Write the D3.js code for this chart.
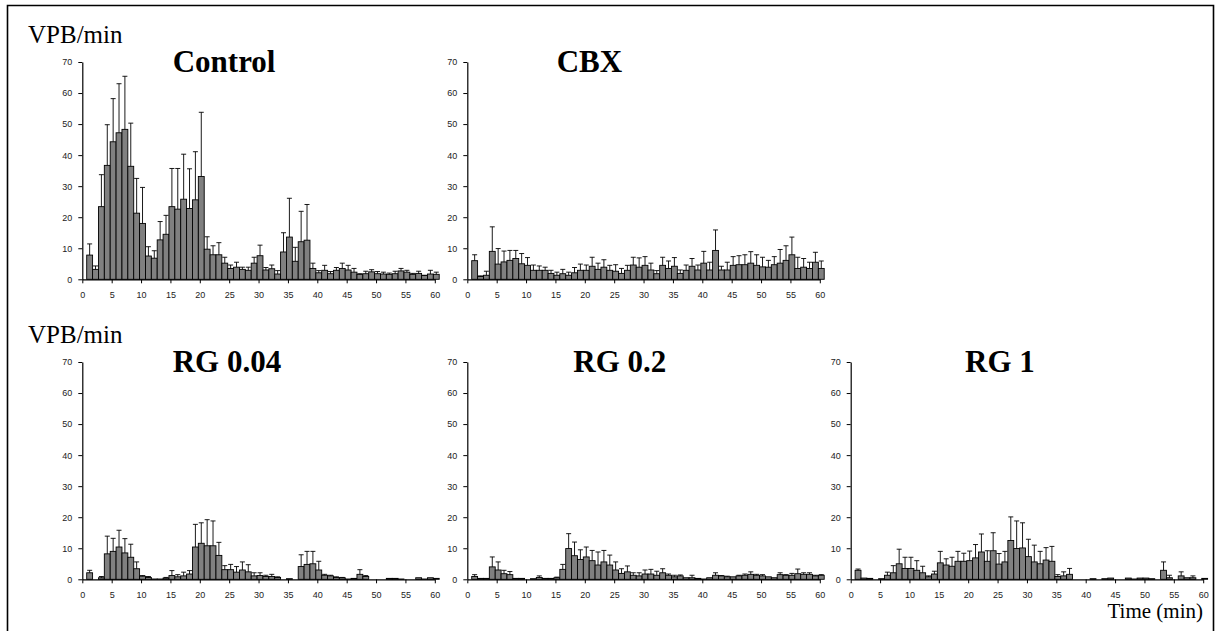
<!DOCTYPE html>
<html>
<head>
<meta charset="utf-8">
<script src="https://cdn.jsdelivr.net/npm/d3@7"></script>
<style>
  html, body { margin: 0; padding: 0; background: #fff; }
  svg { display: block; }
</style>
</head>
<body>
<svg id="chart" width="1219" height="631"></svg>
<script>
// VPB/min per minute of recording (mean and SEM), minutes 1..60
const minutes = d3.range(1, 61);
const xTickValues = d3.range(0, 61, 5);
const yTickValues = d3.range(0, 71, 10);

const controlMean = [7.8, 3.2, 23.4, 36.7, 44.3, 47.2, 48.3, 36.4, 21.3, 18.0,
  7.5, 6.8, 12.7, 14.5, 23.4, 22.6, 25.8, 22.8, 25.6, 33.1,
  9.7, 7.9, 7.9, 5.2, 3.5, 3.9, 3.2, 2.9, 5.2, 7.6,
  3.0, 3.4, 1.7, 8.8, 13.6, 5.8, 12.1, 12.6, 3.5, 2.1,
  2.9, 1.8, 2.9, 3.5, 3.0, 2.3, 1.6, 1.8, 2.4, 1.8,
  1.7, 1.6, 1.8, 2.7, 2.3, 1.6, 1.9, 1.2, 1.7, 1.6];
const controlSem = [3.6, 1.1, 10.3, 13.1, 13.9, 15.8, 17.1, 13.9, 11.2, 11.6,
  3.0, 2.4, 5.9, 6.1, 12.3, 13.1, 14.5, 12.8, 15.5, 20.7,
  4.0, 2.9, 3.9, 1.9, 1.1, 1.6, 0.7, 1.0, 1.9, 3.4,
  0.8, 1.2, 1.1, 6.2, 12.5, 4.5, 9.8, 11.5, 1.7, 0.7,
  1.6, 0.7, 0.9, 1.7, 1.5, 1.2, 0.2, 0.8, 0.7, 0.7,
  0.6, 0.4, 0.8, 0.8, 0.6, 0.3, 0.7, 0.1, 1.2, 0.7];

const cbxMean = [6.0, 0.9, 1.3, 9.0, 4.9, 5.6, 6.1, 6.7, 5.0, 4.5,
  2.9, 2.9, 2.9, 1.9, 1.3, 1.8, 1.3, 2.1, 2.9, 2.9,
  4.2, 3.2, 3.9, 2.9, 2.6, 1.9, 2.9, 4.6, 3.9, 4.5,
  3.0, 1.8, 4.5, 3.5, 4.2, 1.9, 2.9, 4.2, 3.0, 5.2,
  3.0, 9.3, 3.0, 3.0, 4.5, 4.7, 4.7, 5.2, 4.5, 4.0,
  3.9, 4.7, 5.2, 6.1, 7.9, 3.5, 3.9, 3.5, 5.5, 3.5];
const cbxSem = [1.9, 0.2, 1.3, 7.9, 5.0, 3.5, 3.2, 2.6, 3.3, 2.5,
  1.7, 1.4, 1.0, 1.0, 1.0, 1.4, 1.0, 1.7, 2.0, 1.7,
  2.9, 2.0, 2.4, 1.6, 2.1, 1.6, 1.6, 2.5, 3.0, 2.8,
  2.2, 1.0, 2.6, 2.4, 2.8, 1.1, 1.7, 2.5, 1.6, 3.8,
  2.5, 6.6, 1.2, 2.5, 2.8, 2.9, 3.2, 3.7, 3.4, 3.1,
  2.2, 2.6, 4.4, 4.7, 5.7, 3.6, 2.8, 2.0, 3.2, 2.4];

const rg004Mean = [2.1, 0.0, 0.5, 8.2, 9.0, 10.4, 8.5, 7.1, 3.4, 1.0,
  0.6, 0.1, 0.1, 0.4, 1.2, 0.8, 1.1, 1.7, 10.4, 11.6,
  10.8, 10.8, 7.7, 3.1, 3.1, 2.3, 3.0, 2.4, 1.1, 1.2,
  0.9, 0.9, 0.6, 0.0, 0.2, 0.0, 4.1, 4.8, 5.0, 3.0,
  1.3, 1.1, 0.6, 0.5, 0.1, 0.3, 1.6, 0.9, 0.0, 0.0,
  0.0, 0.3, 0.3, 0.1, 0.0, 0.0, 0.5, 0.1, 0.5, 0.3];
const rg004Sem = [0.8, 0.0, 0.4, 5.7, 4.2, 5.4, 4.6, 4.2, 2.2, 0.2,
  0.3, 0.0, 0.0, 0.2, 1.6, 0.7, 1.2, 1.1, 7.3, 6.6,
  8.4, 8.0, 4.2, 1.3, 1.7, 1.8, 2.6, 2.3, 1.0, 0.9,
  0.4, 0.7, 0.2, 0.0, 0.0, 0.0, 3.8, 4.2, 4.0, 2.8,
  0.3, 0.2, 0.2, 0.1, 0.0, 0.0, 1.5, 0.3, 0.0, 0.0,
  0.0, 0.0, 0.0, 0.0, 0.0, 0.0, 0.0, 0.0, 0.0, 0.0];

const rg02Mean = [0.9, 0.3, 0.3, 4.0, 3.0, 1.8, 1.5, 0.3, 0.3, 0.0,
  0.2, 0.6, 0.3, 0.3, 0.5, 3.2, 9.9, 7.6, 6.4, 7.2,
  6.0, 4.6, 5.6, 4.6, 3.0, 1.9, 2.4, 1.3, 1.1, 1.7,
  1.7, 1.3, 2.1, 1.3, 0.8, 1.1, 0.5, 0.5, 0.3, 0.1,
  0.5, 1.3, 1.1, 0.8, 0.8, 1.1, 1.3, 1.6, 1.3, 1.1,
  0.8, 0.5, 1.5, 1.3, 1.3, 1.8, 1.6, 1.6, 1.1, 1.3];
const rg02Sem = [0.6, 0.0, 0.0, 3.2, 2.6, 1.1, 1.0, 0.0, 0.0, 0.0,
  0.0, 0.5, 0.0, 0.0, 0.2, 1.6, 4.8, 4.4, 3.1, 3.2,
  3.3, 4.2, 3.7, 3.2, 2.6, 1.5, 1.9, 0.8, 1.0, 1.3,
  1.5, 1.3, 1.3, 0.4, 0.5, 0.3, 0.0, 0.8, 0.0, 0.0,
  0.0, 0.8, 0.1, 0.2, 0.0, 0.2, 0.4, 0.8, 0.3, 0.4,
  0.0, 0.0, 0.6, 0.2, 0.6, 1.5, 0.5, 0.5, 0.2, 0.2];

const rg1Mean = [2.9, 0.4, 0.3, 0.0, 0.2, 1.3, 2.1, 5.0, 3.5, 3.5,
  2.9, 2.1, 0.8, 1.7, 5.3, 4.6, 4.2, 5.8, 5.8, 6.0,
  6.9, 8.8, 5.8, 9.2, 4.9, 5.6, 12.5, 9.9, 10.1, 7.3,
  5.6, 5.0, 6.2, 5.8, 0.9, 1.1, 1.6, 0.0, 0.0, 0.0,
  0.2, 0.0, 0.2, 0.4, 0.0, 0.0, 0.4, 0.1, 0.4, 0.4,
  0.2, 0.0, 2.9, 0.5, 0.0, 1.1, 0.5, 0.5, 0.0, 0.3];
const rg1Sem = [0.4, 0.0, 0.0, 0.0, 0.0, 1.0, 2.3, 4.7, 3.6, 3.6,
  3.1, 2.1, 0.3, 0.9, 3.7, 2.0, 2.9, 3.2, 2.6, 3.1,
  4.3, 5.8, 3.4, 5.8, 3.4, 3.4, 7.6, 8.9, 8.1, 5.6,
  5.4, 4.0, 4.0, 4.8, 0.6, 1.3, 1.9, 0.0, 0.0, 0.0,
  0.0, 0.0, 0.0, 0.0, 0.0, 0.0, 0.0, 0.0, 0.0, 0.0,
  0.0, 0.0, 2.7, 0.8, 0.0, 1.3, 0.0, 0.6, 0.0, 0.0];

// panel layout: axis origin (left, bottom) and title placement
const panels = [
  { title: "Control", mean: controlMean, sem: controlSem, left: 82.3,  bottom: 279.3, titleX: 172.7 },
  { title: "CBX",     mean: cbxMean,     sem: cbxSem,     left: 467.3, bottom: 279.3, titleX: 556.7 },
  { title: "RG 0.04", mean: rg004Mean,   sem: rg004Sem,   left: 82.3,  bottom: 579.3, titleX: 172.7 },
  { title: "RG 0.2",  mean: rg02Mean,    sem: rg02Sem,    left: 467.3, bottom: 579.3, titleX: 573.3 },
  { title: "RG 1",    mean: rg1Mean,     sem: rg1Sem,     left: 850.7, bottom: 579.3, titleX: 965.0 }
];

const plotW = 352.5;
const plotH = 217.3;
const serif = "'Liberation Serif', 'Times New Roman', serif";
const sans = "'Liberation Sans', Arial, sans-serif";

const svg = d3.select("#chart");
svg.append("rect").attr("width", 1219).attr("height", 631).attr("fill", "#fff");

// frame around the figure
svg.append("path")
  .attr("d", "M7.5,640 V5.5 H1213.5 V640")
  .attr("fill", "none").attr("stroke", "#000").attr("stroke-width", 1.6);

// row labels
[42.5, 342.5].forEach(yb => {
  svg.append("text").attr("x", 28).attr("y", yb)
    .attr("font-family", serif).attr("font-size", 25).attr("fill", "#000")
    .text("VPB/min");
});

svg.append("text").attr("x", 1203).attr("y", 618)
  .attr("text-anchor", "end")
  .attr("font-family", serif).attr("font-size", 21).attr("fill", "#000")
  .text("Time (min)");

panels.forEach(p => {
  const g = svg.append("g").attr("transform", `translate(${p.left},${p.bottom - plotH})`);

  const x = d3.scaleLinear().domain([0, 60]).range([0, plotW]);
  const y = d3.scaleLinear().domain([0, 70]).range([plotH, 0]);
  const band = d3.scaleBand().domain(minutes).range([x(0.75), x(60.75)]).padding(0);

  const rows = minutes.map((m, i) => ({ m, v: p.mean[i], e: p.sem[i] }));

  // bars
  g.append("g").selectAll("rect").data(rows).join("rect")
    .attr("x", d => band(d.m))
    .attr("y", d => y(d.v))
    .attr("width", band.bandwidth())
    .attr("height", d => y(0) - y(d.v))
    .attr("fill", "#808080")
    .attr("stroke", "#000")
    .attr("stroke-width", 0.9);

  // error bars (upper SEM)
  const eb = g.append("g").attr("stroke", "#000").attr("stroke-width", 0.9);
  const withErr = rows.filter(d => d.e > 0);
  eb.selectAll("line.stem").data(withErr).join("line").attr("class", "stem")
    .attr("x1", d => band(d.m) + band.bandwidth() / 2)
    .attr("x2", d => band(d.m) + band.bandwidth() / 2)
    .attr("y1", d => y(d.v))
    .attr("y2", d => y(d.v + d.e));
  eb.selectAll("line.cap").data(withErr).join("line").attr("class", "cap")
    .attr("x1", d => band(d.m) + band.bandwidth() / 2 - 2.5)
    .attr("x2", d => band(d.m) + band.bandwidth() / 2 + 2.5)
    .attr("y1", d => y(d.v + d.e))
    .attr("y2", d => y(d.v + d.e));

  // y axis
  const ya = g.append("g")
    .call(d3.axisLeft(y).tickValues(yTickValues).tickSize(4).tickSizeOuter(0).tickPadding(6));
  // x axis
  const xa = g.append("g").attr("transform", `translate(0,${plotH})`)
    .call(d3.axisBottom(x).tickValues(xTickValues).tickSize(4).tickSizeOuter(0).tickPadding(8));
  [ya, xa].forEach(a => {
    a.selectAll("text").attr("font-family", sans).attr("font-size", 9).attr("fill", "#222");
    a.selectAll("line").attr("stroke", "#000");
    a.select(".domain").attr("stroke", "#000").attr("stroke-width", 1.2);
  });

  // panel title
  svg.append("text")
    .attr("x", p.titleX).attr("y", p.bottom - plotH + 10)
    .attr("font-family", serif).attr("font-weight", "bold").attr("font-size", 31).attr("fill", "#000")
    .text(p.title);
});
</script>
</body>
</html>
